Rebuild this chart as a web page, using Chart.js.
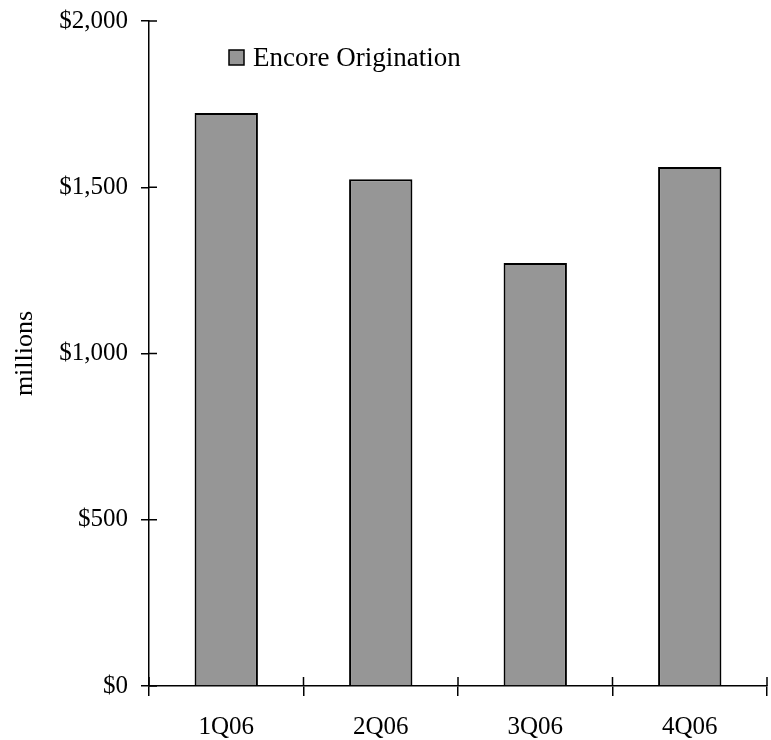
<!DOCTYPE html>
<html>
<head>
<meta charset="utf-8">
<script src="https://cdn.jsdelivr.net/npm/chart.js@4/dist/chart.umd.min.js"></script>
<style>
    html, body { margin: 0; padding: 0; background: #fff; }
    #wrap { width: 771px; height: 740px; }
</style>
</head>
<body>
<div id="wrap"><canvas id="c" width="771" height="740"></canvas></div>
<script>
var quarters = ['1Q06', '2Q06', '3Q06', '4Q06'];
var origination = [1723, 1524, 1272, 1561];
var seriesName = 'Encore Origination';
var axisTitle = 'millions';
var yMin = 0, yMax = 2000, yStep = 500;

var FONT = "'Liberation Serif', 'Times New Roman', serif";

// ticks that cross the axis: library draws the outer half, this draws the inner half
var crossTicks = {
    id: 'crossTicks',
    afterDatasetsDraw: function (chart) {
        var ctx = chart.ctx, area = chart.chartArea;
        var x = chart.scales.x, y = chart.scales.y;
        ctx.save();
        ctx.strokeStyle = '#000';
        ctx.lineWidth = 1.5;
        ctx.beginPath();
        y.ticks.forEach(function (t, i) {
            var py = y.getPixelForTick(i);
            ctx.moveTo(area.left, py);
            ctx.lineTo(area.left + 8, py);
        });
        for (var i = 0; i <= quarters.length; i++) {
            var px = x.getPixelForValue(i - 0.5);
            ctx.moveTo(px, area.bottom);
            ctx.lineTo(px, area.bottom - 9);
        }
        ctx.stroke();
        ctx.restore();
    }
};

var legendBox = {
    id: 'legendBox',
    afterDraw: function (chart) {
        var ctx = chart.ctx, area = chart.chartArea;
        var ds = chart.data.datasets[0];
        var bx = area.left + 80, by = area.top + 29, s = 15;
        ctx.save();
        ctx.fillStyle = ds.backgroundColor;
        ctx.fillRect(bx, by, s, s);
        ctx.strokeStyle = '#000';
        ctx.lineWidth = 1.5;
        ctx.strokeRect(bx, by, s, s);
        ctx.fillStyle = '#000';
        ctx.font = '27px ' + FONT;
        ctx.textBaseline = 'middle';
        ctx.textAlign = 'left';
        ctx.fillText(ds.label, bx + s + 9, by + s / 2 + 1);
        ctx.restore();
    }
};

new Chart(document.getElementById('c'), {
    type: 'bar',
    data: {
        labels: quarters,
        datasets: [{
            label: seriesName,
            data: origination,
            backgroundColor: '#969696',
            borderColor: '#000',
            borderWidth: 2,
            categoryPercentage: 1,
            barPercentage: 0.41
        }]
    },
    options: {
        responsive: false,
        animation: false,
        layout: { padding: { top: 21, right: 4, bottom: 0, left: 0 } },
        plugins: { legend: { display: false }, tooltip: { enabled: false } },
        scales: {
            x: {
                offset: true,
                grid: { offset: true, drawOnChartArea: false, color: '#000', lineWidth: 1.5, tickLength: 10 },
                border: { display: true, color: '#000', width: 1.5 },
                ticks: { color: '#000', font: { family: FONT, size: 25 }, padding: 16, maxRotation: 0 },
                afterFit: function (s) { s.height = 54; }
            },
            y: {
                min: yMin,
                max: yMax,
                grid: { drawOnChartArea: false, color: '#000', lineWidth: 1.5, tickLength: 8 },
                border: { display: true, color: '#000', width: 1.5 },
                ticks: {
                    stepSize: yStep,
                    color: '#000',
                    font: { family: FONT, size: 25 },
                    padding: 13,
                    callback: function (v) { return '$' + v.toLocaleString('en-US'); }
                },
                title: { display: true, text: axisTitle, color: '#000', font: { family: FONT, size: 26 }, padding: { top: 10, bottom: 0 } },
                afterFit: function (s) { s.width = 149; s.paddingTop = 0; s.paddingBottom = 0; }
            }
        }
    },
    plugins: [crossTicks, legendBox]
});
</script>
</body>
</html>
